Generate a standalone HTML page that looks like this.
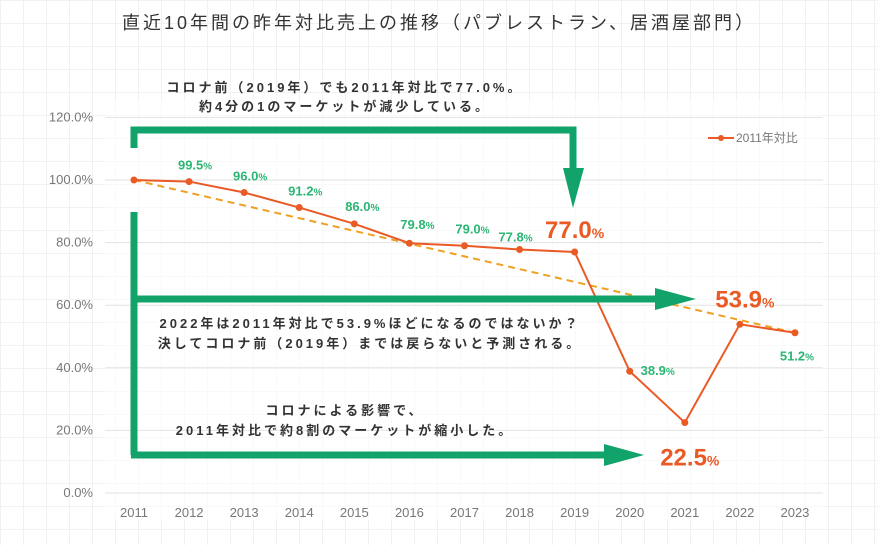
<!DOCTYPE html>
<html><head><meta charset="utf-8">
<style>
html,body{margin:0;padding:0;background:#fff;}
body{width:878px;height:545px;overflow:hidden;font-family:"Liberation Sans","Noto Sans CJK JP",sans-serif;
background-image:linear-gradient(#f1f1f1 1px,transparent 1px),linear-gradient(90deg,#f1f1f1 1px,transparent 1px);background-size:23px 23px;}
svg text{font-family:"Liberation Sans","Noto Sans CJK JP",sans-serif;}
</style></head><body>
<svg id="chart" width="878" height="545" xmlns="http://www.w3.org/2000/svg">
<rect x="105" y="100" width="718" height="420" fill="#fff" fill-opacity="0.6"/>
<text x="439" y="29" text-anchor="middle" font-size="18" letter-spacing="3" fill="#333">直近10年間の昨年対比売上の推移（パブレストラン、居酒屋部門）</text>
<g id="grid"></g><g id="marks"></g><g id="ann"></g>
</svg>
<script>
const categories=["2011","2012","2013","2014","2015","2016","2017","2018","2019","2020","2021","2022","2023"];
const values=[100,99.5,96,91.2,86,79.8,79,77.8,77,38.9,22.5,53.9,51.2];
const yTicks=[0,20,40,60,80,100,120];
const trendStart=100, trendEnd=51.2;
const NS="http://www.w3.org/2000/svg";
const x=i=>134+i*55.08;
const y=v=>493-v*3.13;
function mk(tag,attrs,parent,text){const e=document.createElementNS(NS,tag);for(const k in attrs)e.setAttribute(k,attrs[k]);if(text!==undefined)e.textContent=text;parent.appendChild(e);return e;}
const grid=document.getElementById('grid'),marks=document.getElementById('marks'),ann=document.getElementById('ann');
yTicks.forEach(t=>{
 const l=mk('line',{x1:105,x2:823,y1:y(t),y2:y(t),stroke:'#e2e2e2','stroke-width':1},grid);
 
 
 const tx=mk('text',{x:93,y:y(t)+4,'text-anchor':'end','font-size':13,fill:'#777'},grid,t.toFixed(1)+'%');
 
 
});
categories.forEach((c,i)=>{
 const tx=mk('text',{x:x(i),y:517,'text-anchor':'middle','font-size':13,fill:'#777'},grid,c);
 
 
});
const tr=mk('line',{x1:x(0),y1:y(trendStart),x2:x(categories.length-1),y2:y(trendEnd),stroke:'#f0a020','stroke-width':2,'stroke-dasharray':'7,5'},marks);


const pl=mk('polyline',{points:values.map((v,i)=>x(i)+','+y(v)).join(' '),fill:'none',stroke:'#ea5a25','stroke-width':2},marks);


values.forEach((v,i)=>{
 const c=mk('circle',{cx:x(i),cy:y(v),r:3.5,fill:'#ea5a25'},marks);
 
 
});
const lab=[null,[6,-12,'g'],[6,-12,'g'],[6,-12,'g'],[8,-13,'g'],[8,-14,'g'],[8,-12,'g'],[-4,-8,'g'],[0,-14,'big'],[28,4,'gs'],[5,43,'big'],[5,-17,'big'],[2,28,'gs']];
values.forEach((v,i)=>{
 const L=lab[i]; if(!L) return;
 const big=L[2]==='big';
 const t=mk('text',{x:x(i)+L[0],y:y(v)+L[1],'text-anchor':'middle','font-weight':'bold','font-size':big?24:13,fill:big?'#ea5a25':'#2bb673'},marks);
 
 
 t.appendChild(document.createTextNode(v.toFixed(1)));
 mk('tspan',{'font-size':big?14:10},t,'%');
});
const lg=mk('g',{},marks);


mk('line',{x1:708,x2:734,y1:138,y2:138,stroke:'#ea5a25','stroke-width':2},lg);
mk('circle',{cx:721,cy:138,r:3,fill:'#ea5a25'},lg);
mk('text',{x:736,y:142,'font-size':12,fill:'#777'},lg,'2011年対比');
const G='#12a36a';
const ap=mk('path',{d:'M134 148 V130 H573 V170',fill:'none',stroke:G,'stroke-width':7},ann);

mk('polygon',{points:'563,168 584,168 573,208',fill:G},ann);
const ap2=mk('path',{d:'M134 212 V455',fill:'none',stroke:G,'stroke-width':7},ann);

const ap3=mk('line',{x1:131,x2:658,y1:299,y2:299,stroke:G,'stroke-width':7},ann);

mk('polygon',{points:'655,288 655,310 696,299',fill:G},ann);
const ap4=mk('line',{x1:131,x2:607,y1:455,y2:455,stroke:G,'stroke-width':7},ann);

mk('polygon',{points:'604,444 604,466 644,455',fill:G},ann);
const notes=[[345,92,'コロナ前（2019年）でも2011年対比で77.0%。'],[345,111,'約4分の1のマーケットが減少している。'],[370,328,'2022年は2011年対比で53.9%ほどになるのではないか？'],[370,348,'決してコロナ前（2019年）までは戻らないと予測される。'],[345,415,'コロナによる影響で、'],[345,435,'2011年対比で約8割のマーケットが縮小した。']];
notes.forEach(n=>{
 const t=mk('text',{x:n[0],y:n[1],'text-anchor':'middle','font-size':13,'font-weight':'bold',fill:'#333','letter-spacing':'3'},ann,n[2]);
 
 
});
</script>
</body></html>
